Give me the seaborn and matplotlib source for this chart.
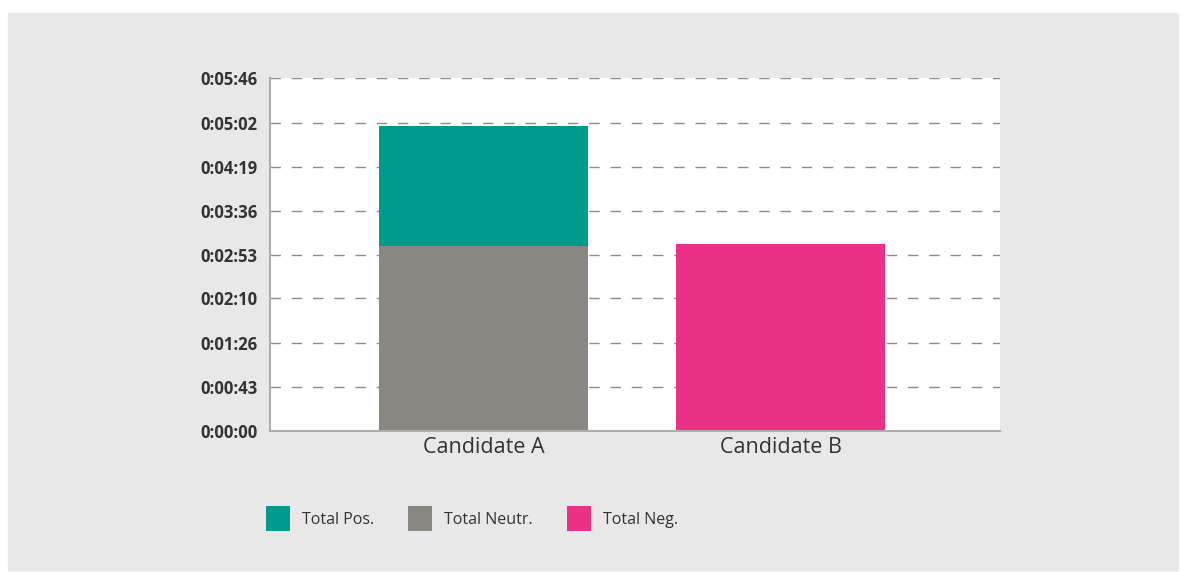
import matplotlib
matplotlib.use("Agg")
import matplotlib.pyplot as plt
from matplotlib.patches import Rectangle, Patch
from matplotlib.ticker import FixedLocator
import seaborn as sns
import pandas as pd

# datos (segundos)
candidates = ["Candidate A", "Candidate B"]
total_pos = [118, 0]
total_neutr = [181, 0]
total_neg = [0, 183]

series_names = ["Total Pos.", "Total Neutr.", "Total Neg."]
y_tick_labels = ["0:00:00", "0:00:43", "0:01:26", "0:02:10", "0:02:53",
                 "0:03:36", "0:04:19", "0:05:02", "0:05:46"]

col_pos = "#009B8D"
col_neutr = "#8A8682"
col_neg = "#EA3186"
text_col = "#333333"


def to_secs(label):
    h, m, s = label.split(":")
    return int(h) * 3600 + int(m) * 60 + int(s)


tick_secs = [to_secs(t) for t in y_tick_labels]

df = pd.DataFrame({"candidate": candidates, "pos": total_pos,
                   "neutr": total_neutr, "neg": total_neg})
bottom_pos = df["neutr"].tolist()
bottom_neg = (df["neutr"] + df["pos"]).tolist()

sns.set_style("white")
plt.rcParams["font.family"] = ["Open Sans", "DejaVu Sans"]

fig = plt.figure(figsize=(11.86, 5.72), dpi=100)
fig.patch.set_facecolor("white")

# fondo gris
fig.patches.append(Rectangle((8 / 1186, 1 - 570 / 572), 1170 / 1186, 557 / 572,
                             transform=fig.transFigure, color="#E8E8E8", zorder=-5))

ax = fig.add_axes([270 / 1186, 1 - 431 / 572, 730 / 1186, 353 / 572])
ax.set_zorder(1)
ax.set_facecolor("white")

bar_w = 0.704
sns.barplot(data=df, x="candidate", y="neutr", color=col_neutr, width=bar_w,
            linewidth=0, saturation=1, ax=ax, zorder=3)
sns.barplot(data=df, x="candidate", y="pos", bottom=bottom_pos, color=col_pos,
            width=bar_w, linewidth=0, saturation=1, ax=ax, zorder=3)
sns.barplot(data=df, x="candidate", y="neg", bottom=bottom_neg, color=col_neg,
            width=bar_w, linewidth=0, saturation=1, ax=ax, zorder=3)

ax.set_xlim(-0.719, 1.739)
ax.set_ylim(0, tick_secs[-1])
ax.yaxis.set_major_locator(FixedLocator(tick_secs))
ax.set_yticklabels(y_tick_labels)
ax.set_xlabel("")
ax.set_ylabel("")

ax.yaxis.grid(True, color="#8E8A87", linestyle=(0, (7.5, 7.8)), linewidth=1.0, zorder=1)
ax.xaxis.grid(False)
ax.set_axisbelow(True)

for s in ["top", "right"]:
    ax.spines[s].set_visible(False)
for s in ["left", "bottom"]:
    ax.spines[s].set_color("#B0ACA9")
    ax.spines[s].set_linewidth(1.5)
    ax.spines[s].set_zorder(4)

ax.tick_params(axis="y", length=0, pad=9, labelsize=12, labelcolor=text_col)
ax.tick_params(axis="x", length=0, pad=4.5, labelsize=15.5, labelcolor=text_col)
for lab in ax.get_yticklabels():
    lab.set_fontweight("bold")

handles = [Patch(facecolor=c, edgecolor="none") for c in [col_pos, col_neutr, col_neg]]
fig.legend(handles, series_names, loc="center left",
           bbox_to_anchor=(266 / 1186, 1 - 518.5 / 572), ncol=3, frameon=False,
           fontsize=11.5, labelcolor=text_col, handlelength=1.5, handleheight=1.94,
           handletextpad=0.75, columnspacing=2.15, borderpad=0, borderaxespad=0)

fig.savefig("out.png", dpi=100, facecolor=fig.get_facecolor())
